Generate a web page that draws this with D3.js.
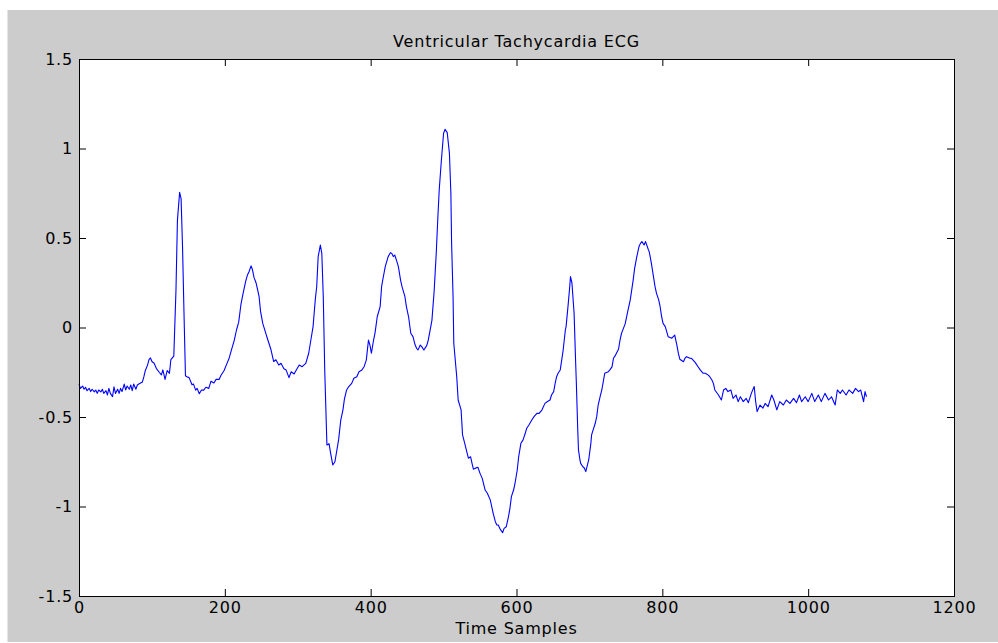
<!DOCTYPE html>
<html>
<head>
<meta charset="utf-8">
<script src="https://cdn.jsdelivr.net/npm/d3@7"></script>
<style>
  body { margin: 0; background: #fff; }
  svg { display: block; }
  text { font-family: "DejaVu Sans", Arial, sans-serif; fill: #000; }
</style>
</head>
<body>
<div id="chart"></div>
<script>
// Time sample index
const samples = [
  0, 2, 5, 7, 9, 11, 14, 16, 18, 21, 23, 25, 27, 30, 32, 34, 37, 39, 41, 43,
  46, 48, 50, 53, 55, 57, 59, 62, 64, 66, 69, 71, 73, 75, 78, 80, 82, 87, 89, 91,
  94, 96, 98, 100, 103, 106, 110, 113, 115, 118, 121, 124, 126, 130, 133, 135, 138, 140, 142, 144,
  146, 148, 151, 153, 155, 157, 160, 162, 165, 168, 171, 174, 178, 181, 185, 188, 192, 195, 199, 202,
  206, 209, 213, 216, 219, 222, 224, 227, 229, 231, 233, 236, 238, 240, 243, 245, 247, 249, 252, 256,
  259, 263, 267, 270, 274, 277, 281, 284, 288, 291, 295, 298, 302, 306, 311, 315, 318, 321, 324, 326,
  328, 331, 333, 335, 337, 340, 343, 345, 348, 351, 356, 359, 362, 364, 367, 370, 374, 377, 381, 384,
  388, 391, 394, 397, 399, 401, 404, 406, 409, 413, 415, 417, 420, 424, 427, 429, 431, 433, 436, 438,
  441, 443, 447, 449, 452, 455, 458, 461, 463, 465, 468, 470, 473, 477, 479, 484, 487, 490, 492, 494,
  497, 500, 502, 505, 508, 510, 511, 513, 514, 518, 520, 524, 526, 529, 534, 537, 539, 541, 543, 547,
  550, 553, 557, 560, 564, 566, 568, 571, 573, 575, 577, 579, 581, 583, 586, 589, 591, 593, 596, 598,
  601, 603, 606, 609, 612, 614, 617, 621, 624, 628, 631, 635, 639, 642, 646, 648, 651, 653, 655, 657,
  660, 662, 664, 667, 668, 671, 673, 674, 676, 678, 679, 681, 682, 684, 685, 687, 688, 691, 693, 695,
  699, 702, 703, 705, 708, 710, 712, 715, 717, 721, 724, 726, 728, 731, 733, 735, 740, 742, 744, 749,
  753, 756, 760, 762, 765, 768, 770, 772, 775, 777, 781, 782, 785, 788, 790, 792, 795, 797, 799, 801,
  804, 808, 813, 815, 817, 820, 822, 824, 829, 831, 833, 838, 840, 845, 849, 852, 856, 859, 863, 865,
  868, 870, 872, 877, 881,
  884, 887, 890, 894, 897, 901, 904, 907, 911, 915, 918, 922, 926, 928, 930, 934, 938, 941, 945, 950,
  953, 957, 961, 966, 970, 975, 980, 984, 988, 991, 996, 1000, 1005, 1009, 1014, 1018, 1023, 1028, 1032, 1037,
  1040, 1044, 1047, 1052, 1056, 1061, 1065, 1069, 1072, 1076, 1078, 1080
];

// ECG amplitude at each sample
const amplitude = [
  -0.316, -0.340, -0.327, -0.345, -0.334, -0.353, -0.340, -0.358, -0.345, -0.360, -0.349, -0.368, -0.349, -0.360, -0.345, -0.368, -0.353, -0.377, -0.340, -0.368,
  -0.386, -0.331, -0.368, -0.345, -0.368, -0.340, -0.358, -0.316, -0.349, -0.327, -0.345, -0.321, -0.353, -0.316, -0.345, -0.321, -0.316, -0.304, -0.275, -0.240,
  -0.210, -0.180, -0.170, -0.190, -0.200, -0.228, -0.250, -0.265, -0.237, -0.290, -0.240, -0.256, -0.180, -0.160, 0.210, 0.600, 0.755, 0.720, 0.450, 0.080,
  -0.270, -0.275, -0.280, -0.300, -0.320, -0.316, -0.350, -0.340, -0.370, -0.349, -0.350, -0.334, -0.340, -0.300, -0.310, -0.290, -0.290, -0.265, -0.240, -0.210,
  -0.170, -0.126, -0.070, -0.014, 0.030, 0.126, 0.170, 0.228, 0.265, 0.293, 0.310, 0.344, 0.321, 0.280, 0.247, 0.210, 0.172, 0.090, 0.023, -0.030,
  -0.070, -0.120, -0.190, -0.180, -0.210, -0.200, -0.230, -0.237, -0.280, -0.247, -0.260, -0.237, -0.210, -0.219, -0.200, -0.144, -0.070, 0.005, 0.154, 0.228,
  0.396, 0.460, 0.414, 0.172, -0.237, -0.656, -0.650, -0.700, -0.768, -0.750, -0.628, -0.517, -0.460, -0.400, -0.349, -0.330, -0.312, -0.284, -0.275, -0.247,
  -0.237, -0.219, -0.182, -0.070, -0.098, -0.144, -0.070, -0.030, 0.060, 0.117, 0.228, 0.275, 0.340, 0.396, 0.418, 0.414, 0.396, 0.405, 0.368, 0.340,
  0.265, 0.228, 0.172, 0.117, 0.060, -0.032, -0.051, -0.098, -0.116, -0.125, -0.098, -0.107, -0.126, -0.100, -0.070, 0.040, 0.200, 0.420, 0.600, 0.768,
  0.936, 1.085, 1.107, 1.089, 0.973, 0.750, 0.470, 0.172, -0.088, -0.274, -0.405, -0.460, -0.600, -0.647, -0.730, -0.722, -0.759, -0.792, -0.787, -0.781,
  -0.815, -0.843, -0.908, -0.926, -0.963, -1.000, -1.038, -1.085, -1.103, -1.103, -1.122, -1.135, -1.146, -1.122, -1.113, -1.057, -1.010, -0.945, -0.908, -0.870,
  -0.796, -0.722, -0.647, -0.628, -0.591, -0.563, -0.545, -0.517, -0.498, -0.480, -0.480, -0.460, -0.424, -0.415, -0.405, -0.377, -0.358, -0.312, -0.275, -0.256,
  -0.237, -0.182, -0.126, -0.014, 0.005, 0.135, 0.228, 0.284, 0.250, 0.135, 0.079, -0.182, -0.300, -0.573, -0.684, -0.740, -0.759, -0.778, -0.785, -0.805,
  -0.740, -0.647, -0.600, -0.573, -0.535, -0.498, -0.433, -0.380, -0.349, -0.256, -0.250, -0.247, -0.237, -0.220, -0.172, -0.160, -0.120, -0.070, -0.033, 0.020,
  0.098, 0.154, 0.265, 0.330, 0.396, 0.452, 0.470, 0.480, 0.461, 0.480, 0.433, 0.424, 0.358, 0.280, 0.228, 0.191, 0.154, 0.116, 0.061, 0.023,
  0.005, -0.051, -0.060, -0.051, -0.042, -0.100, -0.144, -0.177, -0.191, -0.172, -0.163, -0.172, -0.172, -0.195, -0.219, -0.237, -0.256, -0.256, -0.266, -0.275,
  -0.293, -0.312, -0.349, -0.377, -0.405,
  -0.349, -0.340, -0.358, -0.349, -0.396, -0.377, -0.414, -0.387, -0.414, -0.396, -0.420, -0.368, -0.330, -0.414, -0.470, -0.433, -0.450, -0.424, -0.442, -0.377,
  -0.405, -0.460, -0.414, -0.433, -0.405, -0.424, -0.396, -0.420, -0.377, -0.414, -0.387, -0.414, -0.368, -0.414, -0.377, -0.414, -0.368, -0.405, -0.387, -0.433,
  -0.349, -0.368, -0.349, -0.377, -0.349, -0.368, -0.340, -0.358, -0.349, -0.414, -0.358, -0.387
];

const xTicks = [0, 200, 400, 600, 800, 1000, 1200];
const yTicks = [-1.5, -1, -0.5, 0, 0.5, 1, 1.5];

const chartTitle = "Ventricular Tachycardia ECG";
const xTitle = "Time Samples";

// page and plot box
const W = 998, H = 643;
const plot = { left: 79, right: 954, top: 59, bottom: 596 };
const tickLen = 7;
const fontSize = "16px";
const spacing = "0.8px"; // the original lettering is a bit wider than DejaVu

const svg = d3.select("#chart")
  .append("svg")
    .attr("width", W)
    .attr("height", H);

// grey figure background
svg.append("rect")
  .attr("x", 7.5)
  .attr("y", 10)
  .attr("width", W - 7.5)
  .attr("height", 632)
  .attr("fill", "#cccccc");

svg.append("rect")
  .attr("x", plot.left)
  .attr("y", plot.top)
  .attr("width", plot.right - plot.left)
  .attr("height", plot.bottom - plot.top)
  .attr("fill", "#fff");

const x = d3.scaleLinear().domain([0, 1200]).range([plot.left, plot.right]);
const y = d3.scaleLinear().domain([-1.5, 1.5]).range([plot.bottom, plot.top]);

const data = samples.map((s, i) => ({ s, v: amplitude[i] }))
  .filter(d => d.v !== undefined);

// ECG trace
svg.append("path")
  .datum(data)
  .attr("fill", "none")
  .attr("stroke", "#0000ff")
  .attr("stroke-width", 1.1)
  .attr("stroke-linejoin", "round")
  .attr("d", d3.line().x(d => x(d.s)).y(d => y(d.v)));

// axes - ticks point inward like matlab
const fmt = d => String(d);

svg.append("g")
  .attr("transform", `translate(0,${plot.bottom})`)
  .call(d3.axisBottom(x).tickValues(xTicks).tickFormat(fmt)
    .tickSize(-tickLen).tickSizeOuter(0).tickPadding(6))
  .call(g => g.select(".domain").remove());

svg.append("g")
  .attr("transform", `translate(${plot.left},0)`)
  .call(d3.axisLeft(y).tickValues(yTicks).tickFormat(fmt)
    .tickSize(-tickLen).tickSizeOuter(0).tickPadding(6))
  .call(g => g.select(".domain").remove());

svg.append("g")
  .attr("transform", `translate(0,${plot.top})`)
  .call(d3.axisTop(x).tickValues(xTicks).tickFormat("")
    .tickSize(-tickLen).tickSizeOuter(0))
  .call(g => g.select(".domain").remove());

svg.append("g")
  .attr("transform", `translate(${plot.right},0)`)
  .call(d3.axisRight(y).tickValues(yTicks).tickFormat("")
    .tickSize(-tickLen).tickSizeOuter(0))
  .call(g => g.select(".domain").remove());

svg.selectAll(".tick line").attr("stroke", "#000");
svg.selectAll(".tick text")
  .style("font-size", fontSize)
  .style("letter-spacing", spacing)
  .style("font-family", "'DejaVu Sans', Arial, sans-serif")
  .attr("fill", "#000");

// box around the plot
svg.append("rect")
  .attr("x", plot.left + 0.5)
  .attr("y", plot.top + 0.5)
  .attr("width", plot.right - plot.left)
  .attr("height", plot.bottom - plot.top)
  .attr("fill", "none")
  .attr("stroke", "#000")
  .attr("stroke-width", 1);

// titles
svg.append("text")
  .attr("x", (plot.left + plot.right) / 2)
  .attr("y", 47)
  .attr("text-anchor", "middle")
  .style("font-size", fontSize)
  .style("letter-spacing", spacing)
  .text(chartTitle);

svg.append("text")
  .attr("x", (plot.left + plot.right) / 2)
  .attr("y", 634)
  .attr("text-anchor", "middle")
  .style("font-size", fontSize)
  .style("letter-spacing", spacing)
  .text(xTitle);
</script>
</body>
</html>
